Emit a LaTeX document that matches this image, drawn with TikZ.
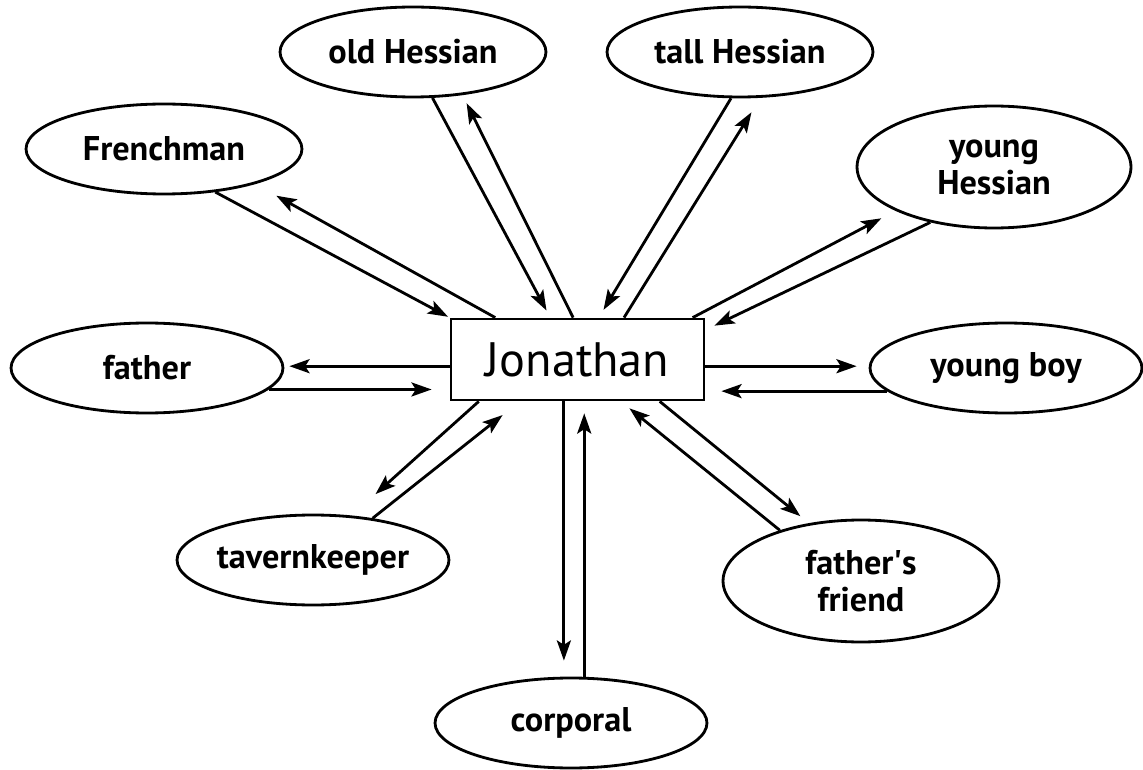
\documentclass[tikz,border=0pt]{standalone}
\usepackage{fontspec}
\setmainfont{PT Sans}
\usetikzlibrary{arrows.meta}
\usetikzlibrary{shapes.geometric}
\usetikzlibrary{calc}

\begin{document}
\begin{tikzpicture}[x=0.02cm, y=-0.02cm, line width=1.6pt,
  person/.style={draw, ellipse, inner sep=0pt, align=center,
    minimum width=5.44cm, minimum height=1.8cm,
    font=\fontsize{19.5}{21}\selectfont\bfseries},
  twoline/.style={minimum height=2.44cm},
  hub/.style={draw, rectangle, inner sep=0pt, minimum width=5.06cm,
    minimum height=1.62cm, font=\fontsize{27.5}{30}\selectfont},
  arr/.style={-{Stealth[length=11.5pt,width=8pt,inset=2.5pt]}}]

\useasboundingbox (0,0) rectangle (1143,770);

\node[hub] (jon) at (577.5,359.5) {Jonathan};

\node[person, minimum width=5.52cm] (french) at (164,149) {Frenchman};
\node[person, minimum width=5.32cm] (oldh) at (413,52) {old Hessian};
\node[person, minimum width=5.32cm] (tallh) at (740,52) {tall Hessian};
\node[person, twoline, minimum width=5.48cm] (youngh) at (994,167) {young\\Hessian};
\node[person] (father) at (147,368) {father};
\node[person] (boy) at (1006,368) {young boy};
\node[person] (tavern) at (313,560) {tavernkeeper};
\node[person, twoline, minimum width=5.52cm] (friend) at (861,581) {father\textquotesingle s\\friend};
\node[person] (corporal) at (571,723) {corporal};

\draw[arr, shorten >=1pt] (french.-40) -- (jon.north west);
\draw[arr, shorten >=0.48cm] (jon.153) -- (french.-21);

\draw[arr, shorten >=0.16cm] (oldh.-67) -- (jon.123);
\draw[arr, shorten >=0.18cm] (jon.96) -- (oldh.-41);

\draw[arr, shorten >=0.18cm] (tallh.-101) -- (jon.63);
\draw[arr, shorten >=0.34cm] (jon.42) -- (tallh.-66);

\draw[arr, shorten >=0.32cm] (jon.20) -- (youngh.204);
\draw[arr, shorten >=0.2cm] (youngh.-139) -- (jon.13);

\draw[arr, shorten >=0.24cm] (jon.-3) -- (jon.-3 -| boy.west);
\draw[arr, shorten >=0.32cm] (boy.191) -- (boy.191 -| jon.east);

\draw[arr, shorten >=0.1cm] (jon.183) -- (jon.183 -| father.east);
\draw[arr, shorten >=0.36cm] (father.-10) -- (father.-10 -| jon.west);

\draw[arr, shorten >=0.64cm] (jon.203) -- (tavern.49);
\draw[arr, shorten >=0.44cm] (tavern.35) -- (jon.216);

\draw[arr, shorten >=0.32cm] (jon.252) -- (jon.252 |- corporal.north);
\draw[arr, shorten >=0.24cm] (corporal.74) -- (corporal.74 |- jon.south);

\draw[arr, shorten >=0.22cm] (jon.-27) -- (friend.132);
\draw[arr, shorten >=0.22cm] (friend.148) -- (jon.-44);

\end{tikzpicture}
\end{document}
